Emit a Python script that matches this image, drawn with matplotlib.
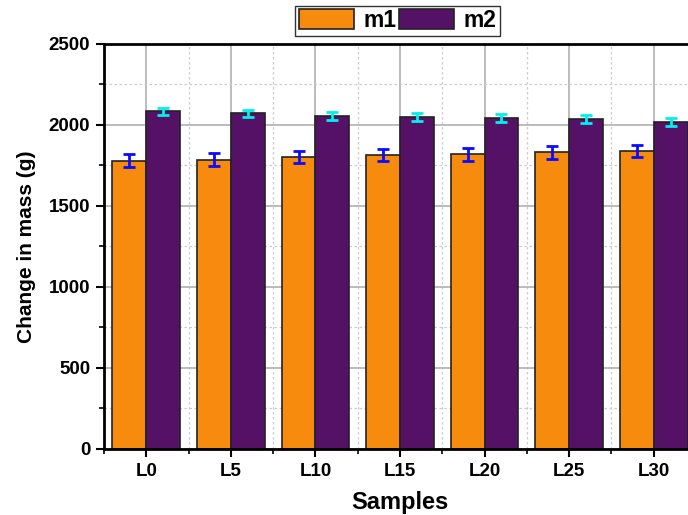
import numpy as np
import matplotlib
matplotlib.use('Agg')
import matplotlib.pyplot as plt
from matplotlib.ticker import MultipleLocator

plt.rcParams['font.family'] = ['Liberation Sans', 'DejaVu Sans']

samples = ['L0', 'L5', 'L10', 'L15', 'L20', 'L25', 'L30']
m1 = [1780, 1786, 1802, 1815, 1819, 1831, 1840]
m1_err = [38, 40, 38, 36, 39, 39, 38]
m2 = [2085, 2072, 2054, 2051, 2041, 2035, 2018]
m2_err = [21, 22, 24, 24, 24, 24, 23]

fig = plt.figure(figsize=(6.88, 5.15), dpi=100)
ax = fig.add_axes([0.1512, 0.1282, 0.8604, 0.7864])

x = np.arange(len(samples))
w = 0.4
ax.bar(x - w / 2, m1, w, color='#F78B0D', edgecolor='#222222', linewidth=1.2,
       label='m1', zorder=2)
ax.bar(x + w / 2, m2, w, color='#551165', edgecolor='#222222', linewidth=1.2,
       label='m2', zorder=2)
ax.errorbar(x - w / 2, m1, yerr=m1_err, fmt='none', ecolor='#0A0AFF',
            elinewidth=2, capsize=4.2, capthick=2, zorder=3)
ax.errorbar(x + w / 2, m2, yerr=m2_err, fmt='none', ecolor='#00F0F0',
            elinewidth=2, capsize=4.2, capthick=2, zorder=3)

ax.set_xlim(-0.5, len(samples) - 0.5)
ax.set_ylim(0, 2500)
ax.set_xticks(x)
ax.set_xticklabels(samples, fontweight='bold', fontsize=13.5)
ax.xaxis.set_minor_locator(MultipleLocator(1, offset=0.5))
ax.yaxis.set_major_locator(MultipleLocator(500))
ax.yaxis.set_minor_locator(MultipleLocator(250))
for lab in ax.get_yticklabels():
    lab.set_fontweight('bold')
    lab.set_fontsize(13.5)

# grid: solid on major ticks, dotted on minor ticks
ax.grid(which='major', color='#b0b0b0', linestyle='-', linewidth=1.2, zorder=0)
ax.grid(which='minor', color='#cccccc', linestyle=(0, (2, 2)), linewidth=0.9, zorder=0)
ax.set_axisbelow(True)

ax.tick_params(which='major', direction='out', length=6, width=1.5, pad=4)
ax.tick_params(which='minor', direction='out', length=3.5, width=1.2)
for side in ['left', 'top', 'bottom']:
    ax.spines[side].set_linewidth(2)
    ax.spines[side].set_color('black')
ax.spines['right'].set_visible(False)

ax.set_xlabel('Samples', fontsize=17, fontweight='bold', labelpad=8)
ax.set_ylabel('Change in mass (g)', fontsize=15, fontweight='bold', labelpad=9)

leg = fig.legend(loc='center', bbox_to_anchor=(0.578, 0.960), ncol=2,
                 prop={'weight': 'bold', 'size': 16.5}, handlelength=2.4,
                 handleheight=0.95, handletextpad=0.4, columnspacing=0.15,
                 frameon=True, fancybox=False, borderpad=0.15, borderaxespad=0)
leg.get_frame().set_edgecolor('black')
leg.get_frame().set_linewidth(1)

fig.savefig('out.png', dpi=100)
